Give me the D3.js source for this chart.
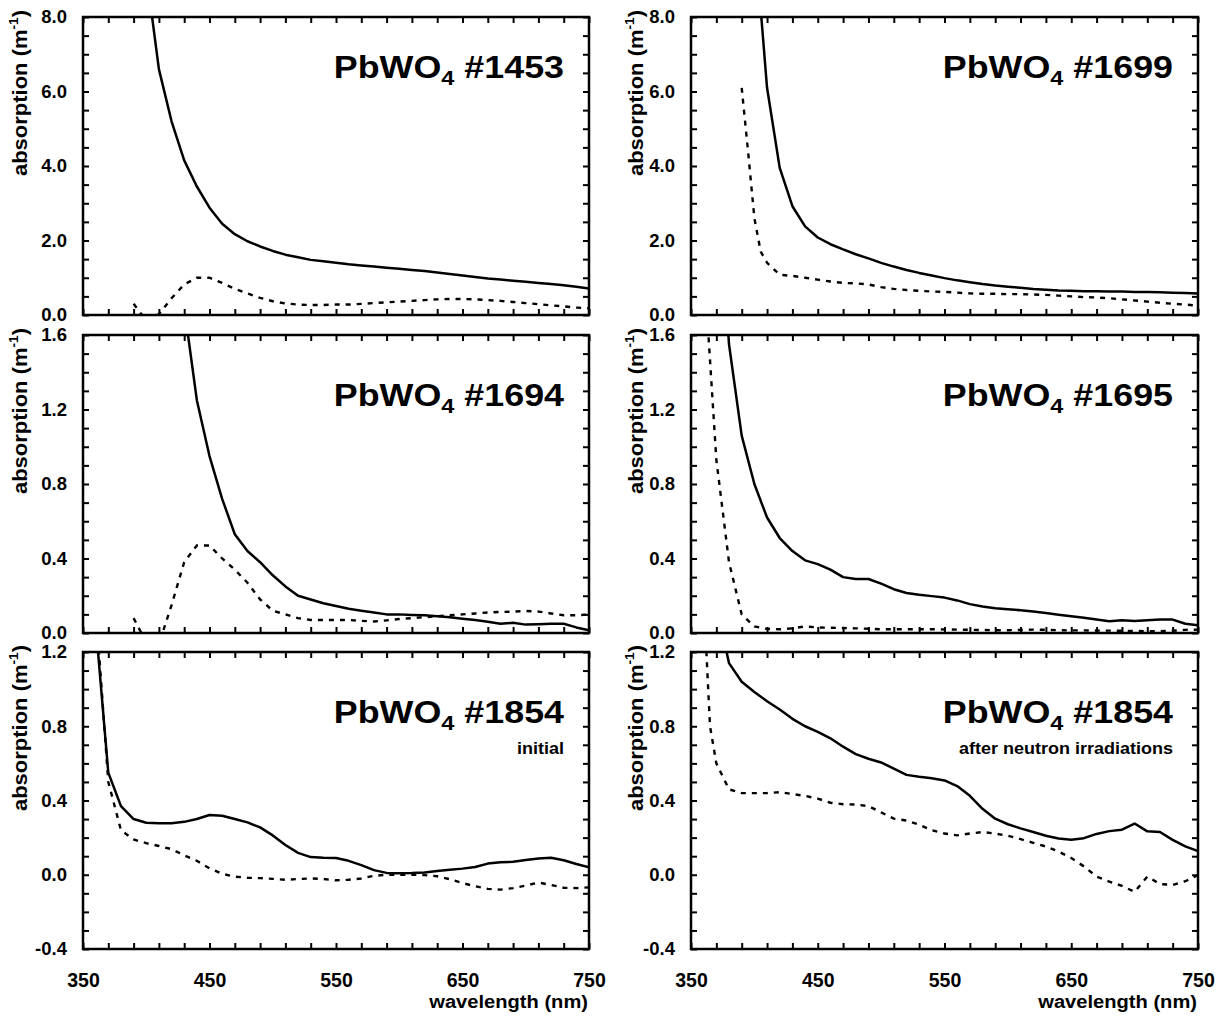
<!DOCTYPE html>
<html>
<head>
<meta charset="utf-8">
<script src="https://cdn.jsdelivr.net/npm/d3@7/dist/d3.min.js"></script>
<style>
  body { margin: 0; background: #fff; }
  svg { display: block; }
  text { font-family: 'Liberation Sans', Arial, Helvetica, sans-serif; font-weight: bold; fill: #000; }
</style>
</head>
<body>
<div id="chart"></div>
<script>
// [wavelength nm, absorption m^-1]
const s1453 = [[400,9.2],[410,6.6],[420,5.2],[430,4.15],[440,3.45],[450,2.88],[460,2.45],[470,2.17],[480,1.98],[490,1.84],[500,1.72],[510,1.62],[520,1.55],[530,1.48],[540,1.44],[550,1.40],[560,1.36],[570,1.33],[580,1.30],[590,1.27],[600,1.24],[610,1.21],[620,1.18],[630,1.14],[640,1.10],[650,1.06],[660,1.02],[670,0.98],[680,0.95],[690,0.92],[700,0.89],[710,0.86],[720,0.83],[730,0.80],[740,0.76],[750,0.71]];
const d1453 = [[390,0.30],[400,-0.15],[410,0.02],[420,0.45],[430,0.82],[440,1.0],[450,1.0],[460,0.86],[470,0.70],[480,0.58],[490,0.46],[500,0.37],[510,0.31],[520,0.28],[530,0.27],[540,0.27],[550,0.28],[560,0.28],[570,0.30],[580,0.32],[590,0.34],[600,0.36],[610,0.38],[620,0.40],[630,0.42],[640,0.43],[650,0.43],[660,0.42],[670,0.40],[680,0.38],[690,0.35],[700,0.32],[710,0.29],[720,0.26],[730,0.23],[740,0.20],[750,0.18]];

const s1699 = [[400,10.5],[405,8.2],[410,6.1],[420,3.95],[430,2.92],[440,2.38],[450,2.08],[460,1.90],[470,1.76],[480,1.63],[490,1.52],[500,1.40],[510,1.30],[520,1.21],[530,1.13],[540,1.06],[550,0.99],[560,0.93],[570,0.88],[580,0.83],[590,0.79],[600,0.76],[610,0.73],[620,0.70],[630,0.68],[640,0.66],[650,0.65],[660,0.64],[670,0.64],[680,0.63],[690,0.63],[700,0.62],[710,0.62],[720,0.61],[730,0.60],[740,0.59],[750,0.58]];
const d1699 = [[390,6.1],[395,4.4],[400,2.6],[405,1.7],[410,1.4],[420,1.08],[430,1.05],[440,1.0],[450,0.95],[460,0.90],[470,0.86],[480,0.85],[490,0.82],[500,0.75],[510,0.70],[520,0.67],[530,0.65],[540,0.63],[550,0.62],[560,0.60],[570,0.58],[580,0.57],[590,0.57],[600,0.56],[610,0.56],[620,0.55],[630,0.54],[640,0.52],[650,0.50],[660,0.48],[670,0.47],[680,0.45],[690,0.42],[700,0.39],[710,0.36],[720,0.33],[730,0.30],[740,0.28],[750,0.25]];

const s1694 = [[430,1.75],[440,1.25],[450,0.95],[460,0.72],[470,0.53],[480,0.44],[490,0.38],[500,0.31],[510,0.25],[520,0.20],[530,0.18],[540,0.16],[550,0.145],[560,0.13],[570,0.12],[580,0.11],[590,0.10],[600,0.10],[610,0.097],[620,0.095],[630,0.09],[640,0.085],[650,0.077],[660,0.07],[670,0.06],[680,0.05],[690,0.055],[700,0.045],[710,0.047],[720,0.05],[730,0.05],[740,0.03],[750,0.015]];
const d1694 = [[390,0.08],[400,-0.05],[410,-0.06],[420,0.15],[430,0.38],[440,0.47],[450,0.47],[460,0.40],[470,0.34],[480,0.27],[490,0.18],[500,0.12],[510,0.10],[520,0.08],[530,0.07],[540,0.07],[550,0.07],[560,0.07],[570,0.065],[580,0.062],[590,0.068],[600,0.075],[610,0.08],[620,0.085],[630,0.09],[640,0.095],[650,0.10],[660,0.105],[670,0.11],[680,0.113],[690,0.115],[700,0.118],[710,0.115],[720,0.105],[730,0.095],[740,0.095],[750,0.10]];

const s1695 = [[370,2.5],[380,1.55],[390,1.06],[400,0.80],[410,0.62],[420,0.51],[430,0.44],[440,0.39],[450,0.37],[460,0.34],[470,0.30],[480,0.29],[490,0.29],[500,0.265],[510,0.235],[520,0.215],[530,0.205],[540,0.198],[550,0.19],[560,0.175],[570,0.155],[580,0.142],[590,0.133],[600,0.128],[610,0.122],[620,0.116],[630,0.107],[640,0.098],[650,0.09],[660,0.082],[670,0.072],[680,0.063],[690,0.068],[700,0.064],[710,0.068],[720,0.072],[730,0.072],[740,0.05],[750,0.041]];
const d1695 = [[360,2.0],[370,0.93],[380,0.38],[390,0.10],[400,0.035],[410,0.022],[420,0.02],[430,0.025],[440,0.035],[450,0.03],[460,0.028],[470,0.027],[480,0.025],[490,0.023],[500,0.02],[510,0.02],[520,0.02],[530,0.02],[540,0.02],[550,0.019],[560,0.018],[570,0.017],[580,0.016],[590,0.015],[600,0.015],[610,0.016],[620,0.018],[630,0.017],[640,0.015],[650,0.014],[660,0.014],[670,0.013],[680,0.013],[690,0.012],[700,0.011],[710,0.01],[720,0.009],[730,0.012],[740,0.017],[750,0.018]];

const s1854a = [[360,1.35],[370,0.55],[380,0.37],[390,0.30],[400,0.28],[410,0.278],[420,0.278],[430,0.285],[440,0.30],[450,0.322],[460,0.318],[470,0.30],[480,0.282],[490,0.255],[500,0.212],[510,0.16],[520,0.118],[530,0.095],[540,0.091],[550,0.09],[560,0.075],[570,0.052],[580,0.025],[590,0.01],[600,0.008],[610,0.009],[620,0.012],[630,0.02],[640,0.027],[650,0.033],[660,0.042],[670,0.06],[680,0.067],[690,0.07],[700,0.08],[710,0.087],[720,0.092],[730,0.078],[740,0.058],[750,0.04]];
const d1854a = [[360,1.45],[370,0.50],[380,0.24],[390,0.19],[400,0.17],[410,0.155],[420,0.138],[430,0.105],[440,0.075],[450,0.035],[460,0.005],[470,-0.01],[480,-0.016],[490,-0.018],[500,-0.022],[510,-0.027],[520,-0.023],[530,-0.02],[540,-0.023],[550,-0.03],[560,-0.027],[570,-0.02],[580,-0.006],[590,0.0],[600,0.0],[610,0.0],[620,-0.002],[630,-0.008],[640,-0.024],[650,-0.045],[660,-0.062],[670,-0.076],[680,-0.08],[690,-0.072],[700,-0.058],[710,-0.042],[720,-0.055],[730,-0.07],[740,-0.072],[750,-0.068]];

const s1854b = [[370,1.45],[380,1.14],[390,1.04],[400,0.985],[410,0.935],[420,0.89],[430,0.84],[440,0.80],[450,0.77],[460,0.735],[470,0.69],[480,0.65],[490,0.625],[500,0.605],[510,0.572],[520,0.538],[530,0.528],[540,0.52],[550,0.508],[560,0.478],[570,0.425],[580,0.355],[590,0.302],[600,0.272],[610,0.25],[620,0.23],[630,0.21],[640,0.195],[650,0.189],[660,0.197],[670,0.22],[680,0.235],[690,0.243],[700,0.276],[710,0.234],[720,0.23],[730,0.188],[740,0.153],[750,0.128]];
const d1854b = [[360,1.5],[365,0.8],[370,0.6],[380,0.46],[390,0.44],[400,0.44],[410,0.44],[420,0.445],[430,0.435],[440,0.425],[450,0.41],[460,0.388],[470,0.38],[480,0.378],[490,0.37],[500,0.336],[510,0.302],[520,0.292],[530,0.27],[540,0.24],[550,0.222],[560,0.212],[570,0.222],[580,0.23],[590,0.222],[600,0.21],[610,0.192],[620,0.172],[630,0.152],[640,0.125],[650,0.09],[660,0.045],[670,-0.01],[680,-0.037],[690,-0.06],[700,-0.092],[710,-0.01],[720,-0.05],[730,-0.055],[740,-0.035],[750,-0.002]];

const xLabels = [350, 450, 550, 650, 750];
const yLabelsTop = [0, 2, 4, 6, 8];
const yLabelsMid = [0, 0.4, 0.8, 1.2, 1.6];
const yLabelsBot = [-0.4, 0, 0.4, 0.8, 1.2];
const sampleIds = ['#1453', '#1699', '#1694', '#1695', '#1854', '#1854'];
const subtitles = [null, null, null, null, 'initial', 'after neutron irradiations'];

const W = 1221, H = 1017;
const cols = [{ x0: 83, x1: 589, yTitleX: 27 }, { x0: 691, x1: 1198, yTitleX: 643 }];
const rows = [
  { y0: 17, y1: 315, dom: [0, 8], step: 0.5, labels: yLabelsTop, titleDy: 61 },
  { y0: 335, y1: 633, dom: [0, 1.6], step: 0.1, labels: yLabelsMid, titleDy: 71 },
  { y0: 652, y1: 949, dom: [-0.4, 1.2], step: 0.1, labels: yLabelsBot, titleDy: 71 }
];
const series = [[s1453, d1453], [s1699, d1699], [s1694, d1694], [s1695, d1695], [s1854a, d1854a], [s1854b, d1854b]];

const svg = d3.select('#chart').append('svg').attr('width', W).attr('height', H);

// text that is a little wider than the installed Arial metric
function wideText(parent, x, y, size, anchor, sx, rot) {
  return parent.append('text')
    .attr('transform', `translate(${x},${y})${rot ? ` rotate(${rot})` : ''} scale(${sx},1)`)
    .attr('text-anchor', anchor).attr('font-size', size);
}

series.forEach(([solid, dashed], i) => {
  const c = cols[i % 2], r = rows[Math.floor(i / 2)];
  const x = d3.scaleLinear().domain([350, 750]).range([c.x0, c.x1]);
  const y = d3.scaleLinear().domain(r.dom).range([r.y1, r.y0]);
  const g = svg.append('g');

  const clipId = `clip${i}`;
  svg.append('clipPath').attr('id', clipId).append('rect')
    .attr('x', c.x0).attr('y', r.y0).attr('width', c.x1 - c.x0).attr('height', r.y1 - r.y0);

  const xMinor = d3.range(350, 751, 20);
  const nY = Math.round((r.dom[1] - r.dom[0]) / r.step);
  const yMinor = d3.range(nY + 1).map(k => r.dom[0] + k * r.step);

  // inward ticks on all four sides
  const tickAxes = [
    [d3.axisBottom(x).tickValues(xMinor), `translate(0,${r.y1})`],
    [d3.axisTop(x).tickValues(xMinor), `translate(0,${r.y0})`],
    [d3.axisLeft(y).tickValues(yMinor), `translate(${c.x0},0)`],
    [d3.axisRight(y).tickValues(yMinor), `translate(${c.x1},0)`]
  ];
  tickAxes.forEach(([ax, tr]) => {
    const a = g.append('g').attr('transform', tr)
      .call(ax.tickSize(-6).tickFormat(''));
    a.select('.domain').remove();
    a.selectAll('line').attr('stroke', '#000').attr('stroke-width', 2);
  });

  // y labels
  const yl = g.append('g').attr('transform', `translate(${c.x0},0)`)
    .call(d3.axisLeft(y).tickValues(r.labels).tickSize(0).tickPadding(16).tickFormat(d => d.toFixed(1)));
  yl.select('.domain').remove();
  yl.selectAll('text').attr('font-size', 18.5).attr('font-family', null).attr('fill', '#000');

  if (r === rows[2]) {
    const xl = g.append('g').attr('transform', `translate(0,${r.y1})`)
      .call(d3.axisBottom(x).tickValues(xLabels).tickSize(0).tickPadding(24).tickFormat(d3.format('d')));
    xl.select('.domain').remove();
    xl.selectAll('text').attr('font-size', 19.5).attr('font-family', null).attr('fill', '#000');
    wideText(g, c.x1 - 1, 1008, 19, 'end', 1.06).text('wavelength (nm)');
  }

  // y title
  const yt = wideText(g, c.yTitleX, r.y0 + 76, 20, 'middle', 1.1, -90);
  yt.append('tspan').text('absorption (m');
  yt.append('tspan').attr('font-size', 12.5).attr('dy', -9).text('-1');
  yt.append('tspan').attr('dy', 9).text(')');

  const line = d3.line().x(d => x(d[0])).y(d => y(d[1]));
  const lines = g.append('g').attr('clip-path', `url(#${clipId})`);
  lines.append('path').datum(solid).attr('d', line)
    .attr('fill', 'none').attr('stroke', '#000').attr('stroke-width', 2.5).attr('stroke-linejoin', 'round');
  lines.append('path').datum(dashed).attr('d', line)
    .attr('fill', 'none').attr('stroke', '#000').attr('stroke-width', 2.4).attr('stroke-dasharray', '5 6');

  // frame
  g.append('rect').attr('x', c.x0).attr('y', r.y0).attr('width', c.x1 - c.x0).attr('height', r.y1 - r.y0)
    .attr('fill', 'none').attr('stroke', '#000').attr('stroke-width', 2.5);

  // panel title
  const tx = c.x1 - 25, ty = r.y0 + r.titleDy;
  const t = wideText(g, tx, ty, 32, 'end', 1.12);
  t.append('tspan').text('PbWO');
  t.append('tspan').attr('font-size', 21).attr('dy', 7).text('4');
  t.append('tspan').attr('dy', -7).text(' ' + sampleIds[i]);
  if (subtitles[i]) {
    wideText(g, tx, r.y0 + 102, 17, 'end', 1.06).text(subtitles[i]);
  }
});
</script>
</body>
</html>
